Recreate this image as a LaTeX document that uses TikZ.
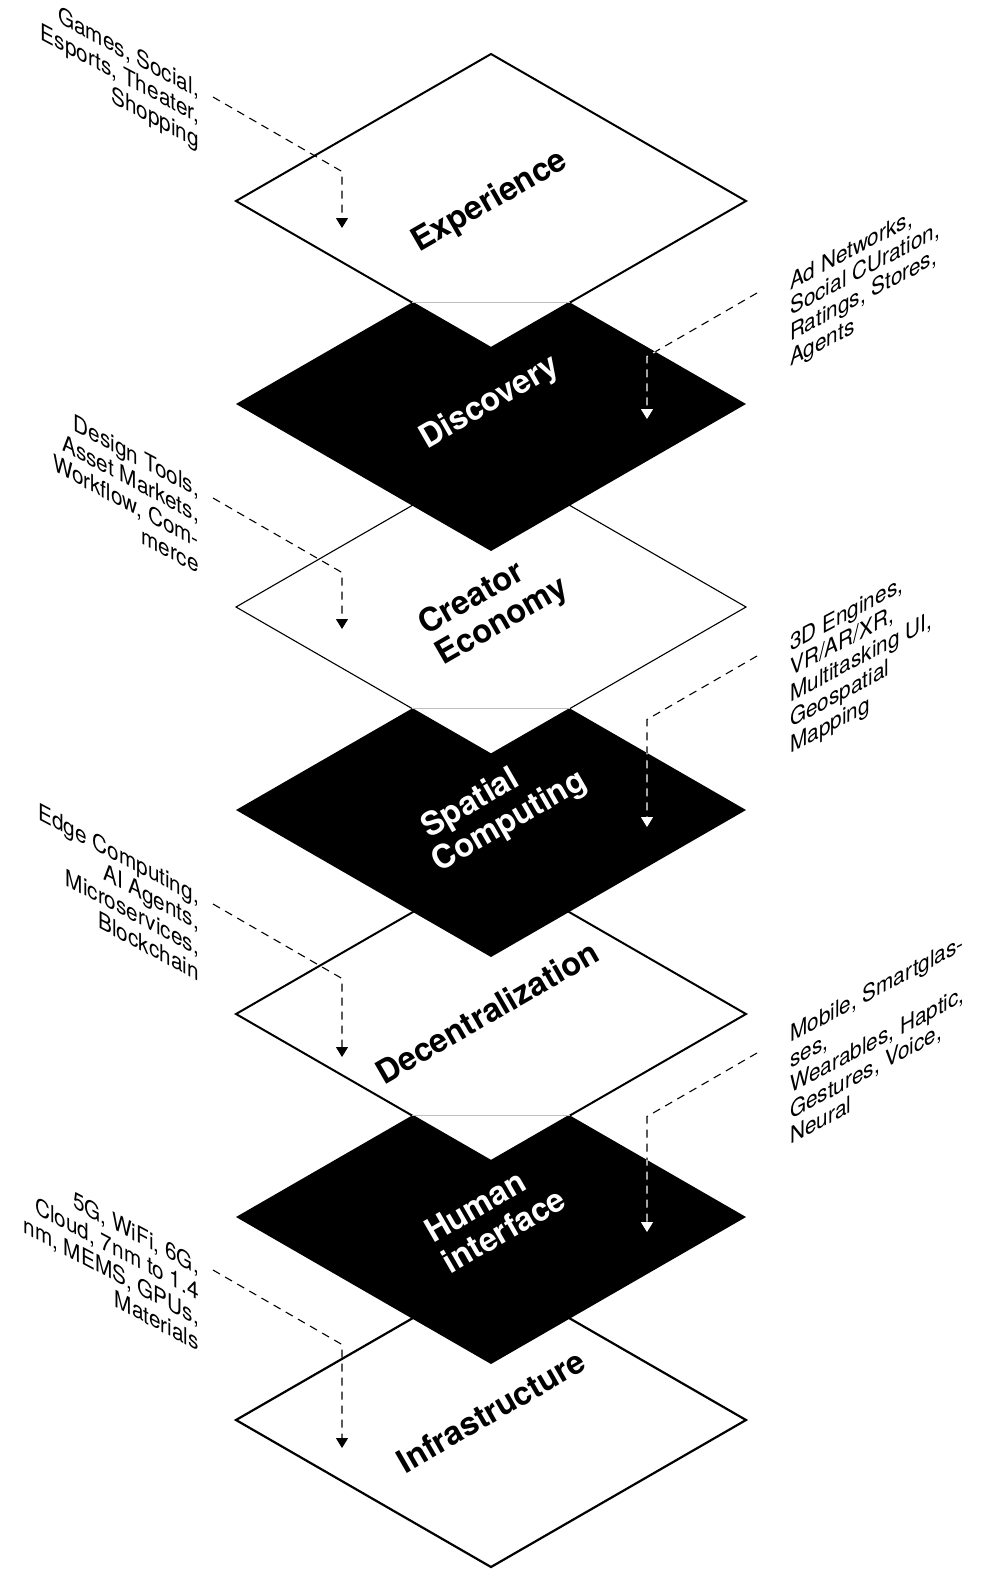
\documentclass[tikz,border=0pt]{standalone}
\usepackage{fontspec}
\setmainfont{TeX Gyre Heros}
\usetikzlibrary{shapes.geometric,arrows.meta}
\begin{document}
\begin{tikzpicture}[x=1pt,y=-1pt,
  layer/.style={diamond, minimum width=510pt, minimum height=294pt, inner sep=0pt, outer sep=0pt, line join=miter},
  lightlayer/.style={layer, fill=white, draw=black, line width=2pt},
  darklayer/.style={layer, fill=black},
  title/.style={rotate=30, font=\fontsize{32.5}{35}\selectfont\bfseries, align=left, inner sep=0pt},
  note/.style={font=\fontsize{23.5}{25.5}\selectfont, inner sep=0pt},
  leftnote/.style={note, align=right, anchor=north east, cm={0.8829,-0.4695,0,1,(0,0)}},
  rightnote/.style={note, align=left, anchor=north west, cm={0.8829,0.4695,0,1,(0,0)}},
  conn/.style={dash pattern=on 8pt off 6pt, line width=1.1pt, -{Triangle[width=12pt,length=10pt]}},
  seam/.style={black!25, line width=0.6pt}
]
% page
\path[use as bounding box, fill=white] (0,0) rectangle (993,1569);

% the seven layers, drawn from the bottom of the stack upwards
\node[lightlayer, line width=2.2pt] (infra) at (491,1420) {};
\node[darklayer] (human) at (491,1217) {};
\node[lightlayer] (decent) at (491,1014) {};
\draw[seam] (412.2,1115.6) -- (569.8,1115.6);
\node[darklayer] (spatial) at (491,810) {};
\node[lightlayer, line width=1.1pt] (creator) at (491,607) {};
\draw[seam] (412.2,708.6) -- (569.8,708.6);
\node[darklayer] (disc) at (491,404) {};
\node[lightlayer] (exp) at (491,201) {};
\draw[seam] (412.2,302.6) -- (569.8,302.6);

% layer titles
\begin{scope}[shift={(490,202)}]
  \node[title] (tExp) at (0,0) {Experience};
\end{scope}
\begin{scope}[shift={(490,403)}]
  \node[title, text=white] (tDisc) at (0,0) {Discovery};
\end{scope}
\begin{scope}[shift={(494,607)}]
  \node[title] (tCreator) at (0,0) {Creator\\Economy};
\end{scope}
\begin{scope}[shift={(501,807)}]
  \node[title, text=white] (tSpatial) at (0,0) {\hspace*{8pt}Spatial\\Computing};
\end{scope}
\begin{scope}[shift={(487,1012)}]
  \node[title] (tDecent) at (0,0) {Decentralization};
\end{scope}
\begin{scope}[shift={(495,1215)}]
  \node[title, text=white] (tHuman) at (0,0) {Human\\interface};
\end{scope}
\begin{scope}[shift={(491,1411)}]
  \node[title] (tInfra) at (0,0) {Infrastructure};
\end{scope}

% side notes, left column
\begin{scope}[shift={(199,80.1)}]
  \node[leftnote] (nGames) at (0,0) {Games, Social,\\Esports, Theater,\\Shopping};
\end{scope}
\begin{scope}[shift={(199,480.1)}]
  \node[leftnote] (nDesign) at (0,0) {Design Tools,\\Asset Markets,\\Workflow, Com-\\merce};
\end{scope}
\begin{scope}[shift={(199,887.1)}]
  \node[leftnote] (nEdge) at (0,0) {Edge Computing,\\AI Agents,\\Microservices,\\Blockchain};
\end{scope}
\begin{scope}[shift={(199,1257.1)}]
  \node[leftnote] (nInfra) at (0,0) {5G, WiFi, 6G,\\Cloud, 7nm to 1.4\\nm, MEMS, GPUs,\\Materials};
\end{scope}

% side notes, right column
\begin{scope}[shift={(790,273.1)}]
  \node[rightnote] (nAd) at (0,0) {Ad Networks,\\Social CUration,\\Ratings, Stores,\\Agents};
\end{scope}
\begin{scope}[shift={(790,634.1)}]
  \node[rightnote] (n3D) at (0,0) {3D Engines,\\VR/AR/XR,\\Multitasking UI,\\Geospatial\\Mapping};
\end{scope}
\begin{scope}[shift={(790,1025.1)}]
  \node[rightnote] (nMobile) at (0,0) {Mobile, Smartglas-\\ses,\\Wearables, Haptic,\\Gestures, Voice,\\Neural};
\end{scope}

% connector end points
\coordinate (gStart) at (213,97);    \coordinate (gBend) at (342,171.5);  \coordinate (gTip) at (342,228);
\coordinate (dStart) at (213,498);   \coordinate (dBend) at (342,572.5);  \coordinate (dTip) at (342,629);
\coordinate (eStart) at (213,904);   \coordinate (eBend) at (342,978.5);  \coordinate (eTip) at (342,1057);
\coordinate (iStart) at (213,1270);  \coordinate (iBend) at (342,1344.5); \coordinate (iTip) at (342,1448);
\coordinate (aStart) at (757,293);   \coordinate (aBend) at (647,356.5);  \coordinate (aTip) at (647,419);
\coordinate (sStart) at (757,656);   \coordinate (sBend) at (647,719.5);  \coordinate (sTip) at (647,827);
\coordinate (mStart) at (757,1053);  \coordinate (mBend) at (647,1116.5); \coordinate (mTip) at (647,1232);

% connectors
\draw[conn] (gStart) -- (gBend) -- (gTip);
\draw[conn] (dStart) -- (dBend) -- (dTip);
\draw[conn] (eStart) -- (eBend) -- (eTip);
\draw[conn] (iStart) -- (iBend) -- (iTip);
\draw[conn] (aStart) -- (aBend) -- (aTip);
\draw[conn] (sStart) -- (sBend) -- (sTip);
\draw[conn] (mStart) -- (mBend) -- (mTip);

% the same connectors in white where they run over a dark layer
\begin{scope}
  \clip (disc.north) -- (disc.east) -- (disc.south) -- (disc.west) -- cycle;
  \draw[conn, white] (aStart) -- (aBend) -- (aTip);
\end{scope}
\begin{scope}
  \clip (spatial.north) -- (spatial.east) -- (spatial.south) -- (spatial.west) -- cycle;
  \draw[conn, white] (sStart) -- (sBend) -- (sTip);
\end{scope}
\begin{scope}
  \clip (human.north) -- (human.east) -- (human.south) -- (human.west) -- cycle;
  \draw[conn, white] (mStart) -- (mBend) -- (mTip);
\end{scope}
\end{tikzpicture}
\end{document}
